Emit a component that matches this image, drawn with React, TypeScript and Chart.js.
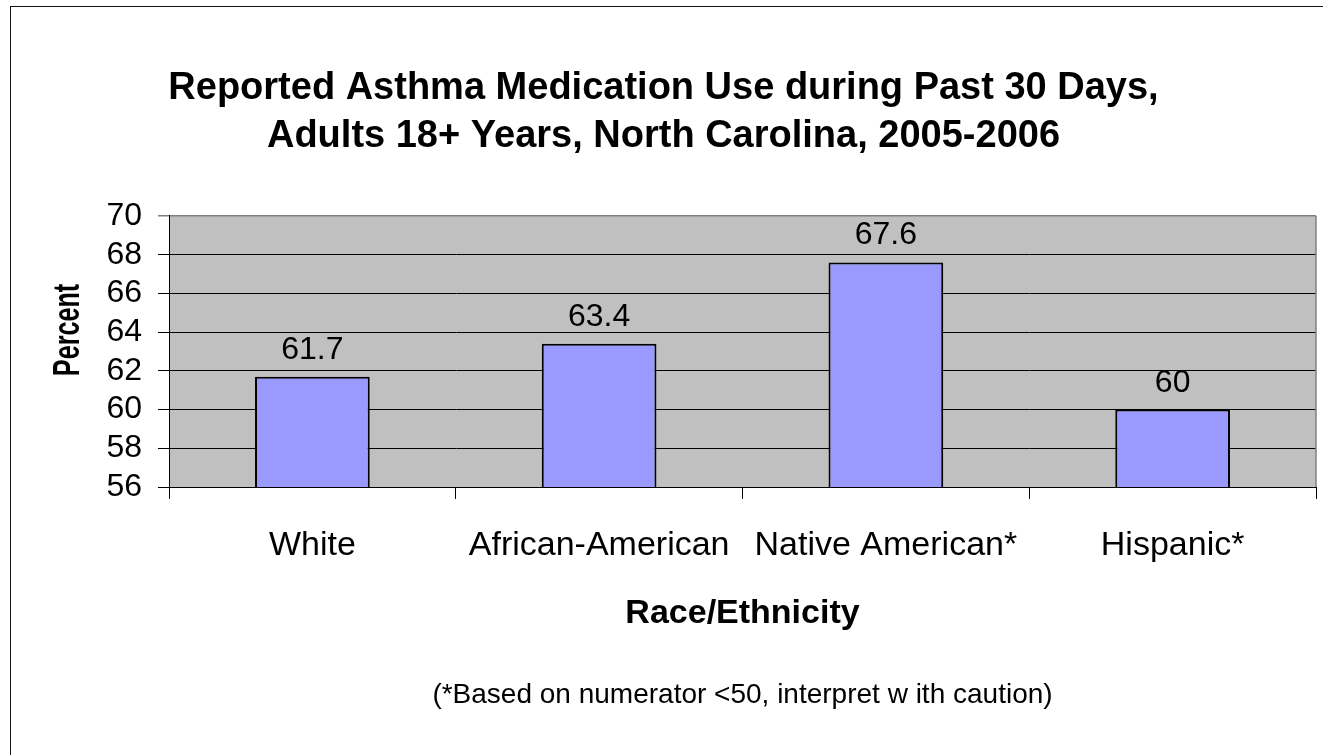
import React, { useEffect, useRef } from 'react';
import { Chart, registerables } from 'chart.js';

Chart.register(...registerables);

const categories = ['White', 'African-American', 'Native American*', 'Hispanic*'];
const values = [61.7, 63.4, 67.6, 60];
const yTicks = [56, 58, 60, 62, 64, 66, 68, 70];
const titleLines = [
  'Reported Asthma Medication Use during Past 30 Days,',
  'Adults 18+ Years, North Carolina, 2005-2006',
];
const xTitle = 'Race/Ethnicity';
const yTitle = 'Percent';
const footnote = '(*Based on numerator <50, interpret w ith caution)';

const FONT = "'Liberation Sans', Arial, sans-serif";

const decorPlugin = {
  id: 'decor',
  beforeDraw(chart: any) {
    const { ctx, chartArea: a } = chart;
    ctx.save();
    ctx.fillStyle = '#C0C0C0';
    ctx.fillRect(a.left, a.top, a.right - a.left, a.bottom - a.top);
    ctx.restore();
  },
  afterDatasetsDraw(chart: any) {
    const { ctx, chartArea: a } = chart;
    ctx.save();
    ctx.strokeStyle = '#808080';
    ctx.lineWidth = 1.5;
    ctx.beginPath();
    ctx.moveTo(a.right, a.top);
    ctx.lineTo(a.right, a.bottom);
    ctx.stroke();
    const meta = chart.getDatasetMeta(0);
    const data = chart.data.datasets[0].data;
    ctx.fillStyle = '#000';
    ctx.font = `32px ${FONT}`;
    ctx.textAlign = 'center';
    ctx.textBaseline = 'alphabetic';
    meta.data.forEach((bar: any, i: number) => {
      ctx.fillText(String(data[i]), bar.x, bar.y - 18);
    });
    ctx.restore();
  },
  afterDraw(chart: any) {
    const { ctx, chartArea: a } = chart;
    ctx.save();
    ctx.fillStyle = '#000';
    ctx.translate(a.left - 100, a.top + 114);
    ctx.rotate(-Math.PI / 2);
    ctx.scale(0.68, 1);
    ctx.font = `bold 37px ${FONT}`;
    ctx.textAlign = 'center';
    ctx.textBaseline = 'middle';
    ctx.fillText(yTitle, 0, 0);
    ctx.restore();

    ctx.save();
    ctx.fillStyle = '#000';
    ctx.font = `28px ${FONT}`;
    ctx.textAlign = 'center';
    ctx.textBaseline = 'middle';
    ctx.fillText(footnote, (a.left + a.right) / 2, a.bottom + 208);
    ctx.restore();
  },
};

export default function App() {
  const ref = useRef<HTMLCanvasElement | null>(null);

  useEffect(() => {
    if (!ref.current) return;
    Chart.defaults.font.family = FONT;
    const chart = new Chart(ref.current, {
      type: 'bar',
      data: {
        labels: categories,
        datasets: [
          {
            data: values,
            backgroundColor: '#9999FF',
            borderColor: '#000000',
            borderWidth: 2,
            borderSkipped: false,
            categoryPercentage: 1,
            barPercentage: 0.4,
          },
        ],
      },
      options: {
        animation: false,
        responsive: false,
        devicePixelRatio: 1,
        layout: { padding: { left: 0, right: 30, top: 0, bottom: 0 } },
        plugins: {
          legend: { display: false },
          tooltip: { enabled: false },
          title: {
            display: true,
            text: titleLines,
            color: '#000',
            font: { size: 38, weight: 'bold', lineHeight: 1.263, family: FONT },
            padding: { top: 58, bottom: 55 },
          },
        },
        scales: {
          x: {
            afterFit: (s: any) => {
              s.height = 280;
            },
            grid: {
              display: true,
              drawOnChartArea: false,
              drawTicks: true,
              tickLength: 12,
              color: '#000',
              lineWidth: 1,
            },
            border: { display: true, color: '#000', width: 1 },
            ticks: {
              color: '#000',
              font: { size: 34, family: FONT },
              padding: 26,
              maxRotation: 0,
              autoSkip: false,
            },
            title: {
              display: true,
              text: xTitle,
              color: '#000',
              font: { size: 34, weight: 'bold', family: FONT },
              padding: { top: 0, bottom: 133 },
            },
          },
          y: {
            min: yTicks[0],
            max: yTicks[yTicks.length - 1],
            afterFit: (s: any) => {
              s.width = 158;
            },
            afterBuildTicks: (s: any) => {
              s.ticks = yTicks.map((v) => ({ value: v }));
            },
            grid: {
              drawTicks: true,
              tickLength: 11,
              color: (c: any) => (c.tick && c.tick.value === 70 ? '#808080' : '#000'),
              lineWidth: (c: any) => (c.tick && c.tick.value === 70 ? 1.5 : 1),
            },
            border: { display: true, color: '#000', width: 1 },
            ticks: {
              color: '#000',
              font: { size: 32, family: FONT },
              padding: 16,
              stepSize: 2,
              autoSkip: false,
            },
            title: { display: false, text: yTitle },
          },
        },
      },
      plugins: [decorPlugin],
    });
    return () => chart.destroy();
  }, []);

  return (
    <div
      style={{
        position: 'fixed',
        left: 0,
        top: 0,
        width: 1323,
        height: 755,
        overflow: 'hidden',
        background: '#fff',
      }}
    >
      <div
        style={{
          position: 'absolute',
          left: 10,
          top: 6,
          width: 1400,
          height: 800,
          borderLeft: '1px solid #111',
          borderTop: '1px solid #111',
        }}
      />
      <canvas
        ref={ref}
        width={1335}
        height={760}
        style={{ position: 'absolute', left: 11, top: 7, display: 'block' }}
      />
    </div>
  );
}
